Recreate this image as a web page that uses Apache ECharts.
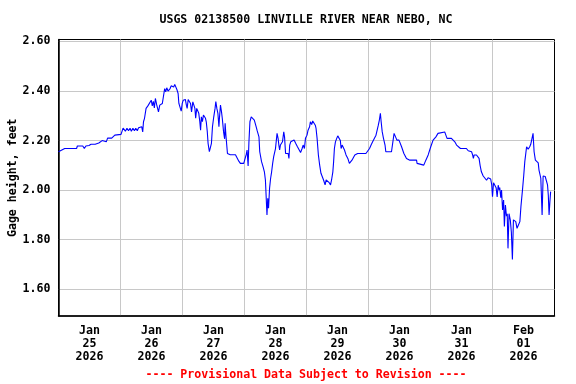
<!DOCTYPE html>
<html>
<head>
<meta charset="utf-8">
<script src="https://cdn.jsdelivr.net/npm/echarts@6/dist/echarts.min.js"></script>
<style>html,body{margin:0;padding:0;background:#fff;}#c{width:576px;height:384px;}</style>
</head>
<body>
<div id="c"></div>
<script>
// Hours since 2026-01-25 00:00
var hours = [0.0,0.3,2.4,7.0,7.3,7.8,8.3,8.9,9.4,10.0,10.6,11.2,11.8,12.6,14.2,14.8,15.6,16.3,16.9,17.4,18.5,19.0,20.6,21.2,21.8,22.4,24.2,24.6,25.0,25.5,25.9,26.5,27.1,27.7,28.2,28.8,29.4,29.9,30.5,31.0,31.6,32.2,32.6,32.9,33.3,33.9,34.6,35.3,35.9,36.3,36.7,37.1,37.5,38.0,38.3,38.7,39.2,39.8,40.2,40.6,41.1,41.5,41.9,42.4,42.8,43.2,43.6,44.0,44.6,45.0,45.5,45.9,46.3,46.6,47.0,47.5,47.9,48.3,48.7,49.1,49.5,49.8,50.2,50.7,51.1,51.5,52.0,52.4,52.8,53.1,53.5,53.9,54.3,54.7,55.0,55.3,55.7,56.1,56.5,56.9,57.2,57.6,57.9,58.4,58.8,59.2,59.6,60.1,60.6,60.9,61.3,61.7,62.1,62.3,62.7,63.1,63.4,63.9,64.3,64.5,64.8,65.1,65.4,66.0,66.5,68.5,69.1,69.8,70.4,71.7,72.3,72.7,73.0,73.4,73.7,74.1,74.6,75.2,75.8,76.5,76.9,77.6,77.9,78.6,79.2,79.7,80.1,80.4,80.7,81.0,81.3,81.7,82.1,82.5,82.9,83.3,84.0,84.4,84.6,85.0,85.3,85.6,85.9,86.3,86.7,87.2,87.5,87.9,88.5,88.9,89.2,89.5,89.9,90.5,91.2,91.8,92.5,93.1,93.7,94.3,94.7,95.2,95.6,96.2,96.6,97.2,97.5,98.0,98.4,99.1,99.4,99.7,100.1,100.6,101.1,101.6,102.2,102.6,103.2,103.6,104.2,104.8,105.3,105.7,106.2,106.5,106.8,107.2,107.7,108.1,108.7,109.1,109.4,109.8,110.3,110.7,111.3,112.0,112.6,113.2,113.6,114.2,114.7,115.8,117.8,118.4,119.0,119.7,120.4,121.0,121.6,122.3,122.9,123.3,123.8,124.2,124.6,124.9,125.3,125.8,126.4,126.7,128.9,129.9,130.6,131.0,131.8,132.8,133.7,134.7,136.0,138.6,138.8,141.4,142.2,143.1,144.1,145.0,146.1,146.9,147.6,149.5,149.8,150.4,152.1,153.4,154.1,155.6,157.9,158.6,159.9,160.3,160.6,160.9,161.8,162.8,163.2,163.7,164.4,165.0,165.7,166.3,167.0,167.3,167.7,168.0,168.4,169.0,169.4,169.8,170.2,170.6,170.8,171.2,171.5,171.9,172.3,172.6,173.0,173.4,173.7,174.0,174.4,174.9,175.3,175.7,176.1,176.4,177.0,177.5,177.9,178.6,179.0,179.6,180.1,180.5,181.2,181.8,182.4,182.8,183.3,183.7,184.1,184.6,185.2,185.7,186.0,186.7,187.2,187.6,188.4,188.9,189.3,189.6,189.9,190.2,190.5];
var gageHeight = [2.155,2.162,2.168,2.168,2.178,2.172,2.178,2.170,2.178,2.168,2.178,2.170,2.180,2.185,2.185,2.190,2.190,2.198,2.200,2.195,2.195,2.210,2.210,2.215,2.222,2.225,2.225,2.219,2.250,2.250,2.238,2.250,2.240,2.250,2.238,2.250,2.240,2.250,2.240,2.252,2.252,2.256,2.235,2.276,2.290,2.330,2.340,2.343,2.363,2.340,2.358,2.332,2.370,2.345,2.352,2.316,2.343,2.335,2.350,2.377,2.410,2.397,2.413,2.400,2.404,2.410,2.421,2.427,2.416,2.427,2.423,2.404,2.390,2.350,2.336,2.319,2.350,2.363,2.356,2.366,2.343,2.330,2.366,2.368,2.350,2.316,2.356,2.350,2.330,2.290,2.330,2.336,2.310,2.276,2.242,2.296,2.276,2.303,2.310,2.290,2.276,2.235,2.189,2.155,2.148,2.189,2.256,2.296,2.330,2.357,2.330,2.310,2.256,2.290,2.343,2.316,2.290,2.235,2.207,2.270,2.222,2.215,2.148,2.148,2.143,2.143,2.135,2.117,2.108,2.108,2.130,2.145,2.162,2.098,2.190,2.276,2.296,2.290,2.283,2.256,2.240,2.215,2.155,2.115,2.094,2.074,2.040,2.037,1.900,1.967,1.927,2.007,2.047,2.074,2.108,2.135,2.168,2.209,2.229,2.209,2.182,2.162,2.182,2.175,2.195,2.235,2.215,2.148,2.141,2.148,2.128,2.182,2.195,2.202,2.202,2.189,2.175,2.168,2.152,2.168,2.182,2.168,2.209,2.222,2.242,2.256,2.276,2.265,2.279,2.279,2.262,2.249,2.209,2.142,2.101,2.068,2.061,2.041,2.021,2.041,2.037,2.030,2.021,2.041,2.074,2.115,2.168,2.195,2.209,2.219,2.219,2.200,2.168,2.182,2.180,2.162,2.142,2.128,2.108,2.108,2.121,2.128,2.142,2.148,2.148,2.141,2.148,2.155,2.168,2.182,2.195,2.202,2.222,2.229,2.262,2.283,2.310,2.276,2.236,2.209,2.182,2.155,2.155,2.229,2.229,2.202,2.202,2.175,2.148,2.128,2.121,2.121,2.108,2.101,2.121,2.142,2.175,2.202,2.215,2.229,2.235,2.235,2.229,2.209,2.209,2.195,2.182,2.168,2.168,2.159,2.155,2.142,2.128,2.142,2.142,2.128,2.100,2.074,2.057,2.050,2.040,2.050,2.057,2.045,2.021,1.973,2.030,2.035,2.010,1.973,2.020,2.000,2.010,1.970,2.000,1.920,1.960,1.853,1.940,1.895,1.905,1.765,1.905,1.879,1.830,1.720,1.880,1.873,1.873,1.846,1.856,1.873,1.933,2.000,2.060,2.115,2.175,2.165,2.175,2.185,2.209,2.229,2.155,2.121,2.115,2.110,2.081,2.048,1.900,2.057,2.055,2.050,2.021,1.980,1.900,1.950,1.994];

var yTicks = [1.6, 1.8, 2.0, 2.2, 2.4, 2.6];
var dayBoundaries = [24, 48, 72, 96, 120, 144, 168];
var labelHours = [12, 36, 60, 84, 108, 132, 156, 180];
var labelMonths = ['Jan', 'Jan', 'Jan', 'Jan', 'Jan', 'Jan', 'Jan', 'Feb'];
var labelDays = ['25', '26', '27', '28', '29', '30', '31', '01'];
var labelYears = ['2026', '2026', '2026', '2026', '2026', '2026', '2026', '2026'];

var titleText = 'USGS 02138500 LINVILLE RIVER NEAR NEBO, NC';
var yAxisTitle = 'Gage height, feet';
var footerText = '---- Provisional Data Subject to Revision ----';

var FONT = '"DejaVu Sans Mono", "Liberation Mono", monospace';
var FS = 11.6;

var pts = hours.map(function (h, i) { return [h, gageHeight[i]]; });

var chart = echarts.init(document.getElementById('c'), null, { renderer: 'canvas' });
chart.setOption({
  animation: false,
  backgroundColor: '#fff',
  grid: {
    left: 58.5, right: 21.5, top: 39.5, bottom: 68,
    show: true, borderColor: '#000', borderWidth: 1, backgroundColor: 'transparent',
    containLabel: false, outerBoundsMode: 'none'
  },
  graphic: [
    { type: 'text', x: 306, y: 20, style: { text: titleText, font: 'bold ' + FS + 'px ' + FONT, fill: '#000', textAlign: 'center', textVerticalAlign: 'middle' } },
    { type: 'text', x: 306, y: 375, style: { text: footerText, font: 'bold ' + FS + 'px ' + FONT, fill: '#ff0000', textAlign: 'center', textVerticalAlign: 'middle' } }
  ],
  xAxis: {
    type: 'value', min: 0, max: 192,
    axisLine: { show: true, onZero: false, lineStyle: { color: '#000', width: 1.5 } },
    axisTick: { show: false, customValues: dayBoundaries },
    splitLine: { show: true, lineStyle: { color: '#c8c8c8', width: 1 } },
    axisLabel: {
      customValues: labelHours,
      margin: 9,
      color: '#000', fontFamily: FONT, fontWeight: 'bold', fontSize: FS, lineHeight: 12.8,
      formatter: function (v) {
        var i = labelHours.indexOf(Math.round(v));
        if (i < 0) return '';
        return labelMonths[i] + '\n' + labelDays[i] + '\n' + labelYears[i];
      }
    }
  },
  yAxis: {
    type: 'value', min: 1.492, max: 2.608,
    axisLine: { show: true, onZero: false, lineStyle: { color: '#000', width: 1.5 } },
    axisTick: { show: false, customValues: yTicks },
    splitLine: { show: true, lineStyle: { color: '#c8c8c8', width: 1 } },
    axisLabel: {
      customValues: yTicks,
      margin: 8,
      color: '#000', fontFamily: FONT, fontWeight: 'bold', fontSize: FS,
      formatter: function (v) { return v.toFixed(2); }
    },
    name: yAxisTitle, nameLocation: 'middle', nameRotate: 90, nameGap: 40,
    nameMoveOverlap: false,
    nameTextStyle: { color: '#000', fontFamily: FONT, fontWeight: 'bold', fontSize: FS }
  },
  series: [{
    type: 'line', data: pts, showSymbol: false, symbol: 'none',
    lineStyle: { color: '#0000ff', width: 1.1 },
    clip: true
  }]
});
</script>
</body>
</html>
